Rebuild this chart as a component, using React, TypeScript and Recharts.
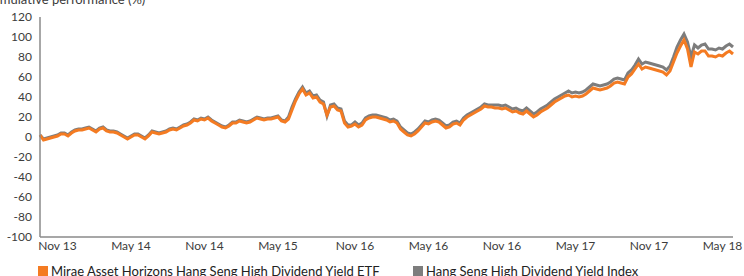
import React from 'react';
import { LineChart, Line, XAxis, YAxis } from 'recharts';

// cumulative performance (%), one reading per ~3.5px step of the original
const etfValues = [
  2, -3, -2, -1, 0, 1, 3, 3, 1, 4,
  6, 7, 7, 8, 9, 7, 5, 8, 9, 6,
  5, 5, 4, 2, 0, -2, 0, 2, 2, 0,
  -2, 1, 5, 4, 3, 4, 5, 7, 8, 7,
  9, 11, 12, 14, 17, 16, 18, 17, 19, 16,
  14, 12, 10, 9, 11, 14, 14, 16, 15, 14,
  15, 17, 19, 18, 17, 18, 18, 19, 20, 16,
  15, 18, 27, 36, 43, 48, 42, 44, 39, 40,
  35, 33, 22, 30, 31, 27, 26, 14, 10, 11,
  13, 10, 12, 17, 19, 20, 20, 19, 18, 17,
  15, 16, 14, 8, 5, 2, 1, 3, 6, 10,
  14, 13, 15, 16, 15, 12, 9, 10, 13, 14,
  12, 17, 20, 22, 24, 26, 28, 31, 30, 30,
  29, 29, 28, 29, 27, 25, 26, 24, 23, 26,
  23, 20, 22, 25, 27, 29, 32, 35, 37, 39,
  41, 42, 40, 41, 40, 41, 43, 46, 49, 48,
  47, 48, 49, 51, 54, 55, 54, 53, 60, 63,
  68, 73, 68, 70, 69, 68, 67, 66, 65, 62,
  66, 75, 84, 91, 97, 88, 70, 85, 83, 86,
  86, 81, 81, 80, 82, 81, 84, 86, 83,
];

const indexValues = [
  2, -2, -1, 0, 1, 2, 4, 4, 2, 5,
  7, 8, 8, 9, 10, 8, 6, 9, 10, 7,
  6, 6, 5, 3, 1, -1, 1, 3, 3, 1,
  -1, 2, 6, 5, 4, 5, 6, 8, 9, 8,
  10, 12, 13, 15, 18, 17, 19, 18, 20, 17,
  15, 13, 11, 10, 12, 15, 15, 17, 16, 15,
  16, 18, 20, 19, 18, 19, 19, 20, 21, 17,
  16, 20, 30, 38, 45, 50, 44, 46, 41, 42,
  37, 35, 21, 32, 33, 29, 28, 16, 12, 12,
  15, 12, 14, 19, 21, 22, 22, 21, 20, 19,
  17, 18, 16, 10, 7, 4, 3, 5, 8, 12,
  16, 15, 17, 18, 17, 14, 11, 12, 15, 16,
  14, 19, 22, 24, 26, 28, 30, 33, 32, 32,
  32, 32, 31, 32, 30, 28, 29, 27, 26, 29,
  26, 23, 25, 28, 30, 32, 35, 38, 40, 42,
  44, 46, 44, 45, 44, 45, 47, 50, 53, 52,
  51, 52, 53, 55, 58, 59, 58, 57, 64, 67,
  72, 78, 73, 75, 74, 73, 72, 71, 70, 67,
  71, 80, 90, 97, 103, 95, 80, 92, 89, 92,
  93, 88, 88, 87, 89, 88, 91, 93, 90,
];

const xTickIdx = [5, 26, 47, 68, 90, 111, 132, 153, 174, 195];
const xTickLabels = ['Nov 13', 'May 14', 'Nov 14', 'May 15', 'Nov 16', 'May 16', 'Nov 16', 'May 17', 'Nov 17', 'May 18'];
const yTicks = [-100, -80, -60, -40, -20, 0, 20, 40, 60, 80, 100, 120];

const seriesNames = ['Mirae Asset Horizons Hang Seng High Dividend Yield ETF', 'Hang Seng High Dividend Yield Index'];

const ORANGE = '#F47B22';
const GREY = '#7D7D7D';
const TEXT = '#3c3c3c';
const FONT = 'Lato, "Noto Sans", sans-serif';

const data = etfValues.map((v, i) => ({ i, etf: v, index: indexValues[i] }));

export default function App() {
  return (
    <div style={{ position: 'fixed', left: 0, top: 0, width: 744, height: 276, overflow: 'hidden', background: '#fff', fontFamily: FONT }}>
      <span style={{ position: 'absolute', left: -16, top: -7, fontSize: 13, lineHeight: '13px', color: TEXT, whiteSpace: 'nowrap' }}>
        Cumulative performance (%)
      </span>
      <LineChart width={744} height={276} data={data} margin={{ top: 17, right: 11, left: 0, bottom: 19 }}>
        <XAxis
          dataKey="i"
          type="number"
          domain={[0, etfValues.length - 1]}
          ticks={xTickIdx}
          interval={0}
          tickFormatter={(v: number) => xTickLabels[xTickIdx.indexOf(v)]}
          tickLine={false}
          tickSize={4}
          tickMargin={0}
          height={20}
          axisLine={{ stroke: '#8a8a8a', strokeWidth: 1.5 }}
          tick={{ fill: TEXT, fontSize: 12, fontFamily: FONT }}
        />
        <YAxis
          type="number"
          domain={[-100, 120]}
          ticks={yTicks}
          interval={0}
          width={40}
          tickLine={false}
          axisLine={{ stroke: '#8a8a8a', strokeWidth: 1.5 }}
          tick={{ fill: TEXT, fontSize: 12, fontFamily: FONT }}
        />
        <Line type="linear" dataKey="index" stroke={GREY} strokeWidth={3} dot={false} isAnimationActive={false} />
        <Line type="linear" dataKey="etf" stroke={ORANGE} strokeWidth={3} dot={false} isAnimationActive={false} />
      </LineChart>
      <div style={{ position: 'absolute', left: 38, top: 263, display: 'flex', alignItems: 'center', fontSize: 13, color: '#222', whiteSpace: 'nowrap' }}>
        <span style={{ width: 10, height: 10, background: ORANGE, marginRight: 3 }} />
        {seriesNames[0]}
      </div>
      <div style={{ position: 'absolute', left: 413, top: 263, display: 'flex', alignItems: 'center', fontSize: 13, color: '#222', whiteSpace: 'nowrap' }}>
        <span style={{ width: 10, height: 10, background: GREY, marginRight: 3 }} />
        {seriesNames[1]}
      </div>
    </div>
  );
}
